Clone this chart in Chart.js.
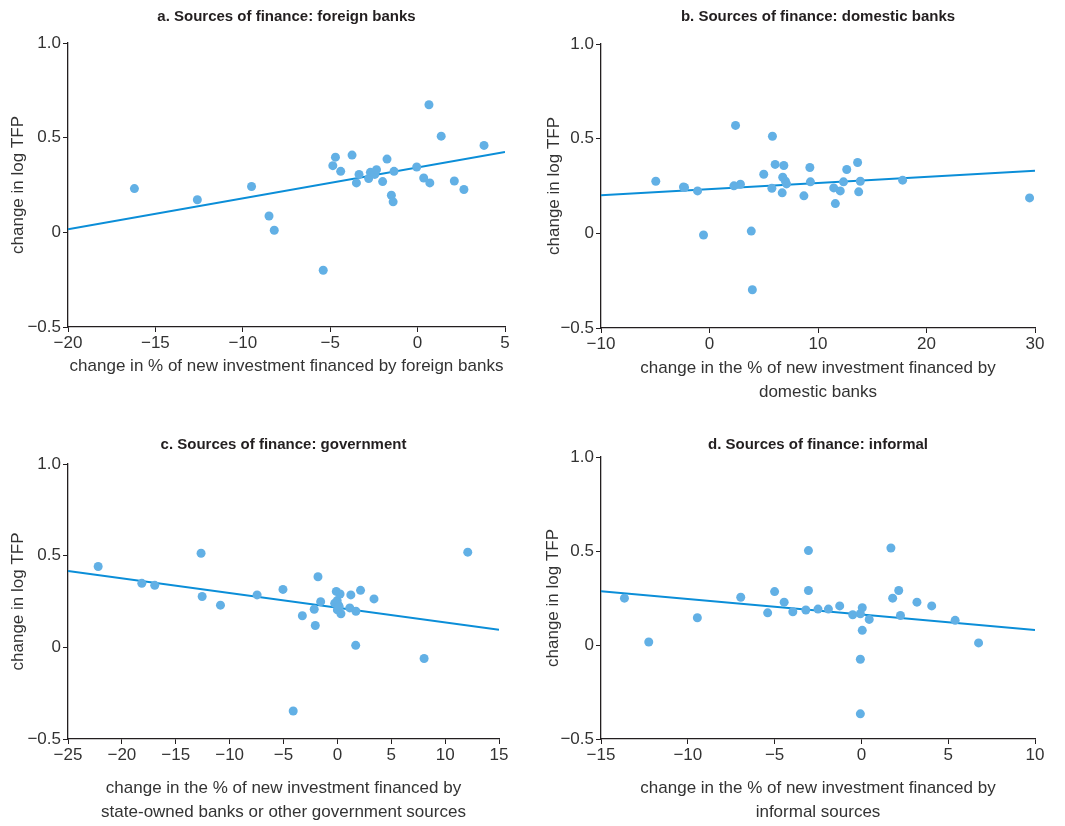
<!DOCTYPE html>
<html>
<head>
<meta charset="utf-8">
<script src="https://cdn.jsdelivr.net/npm/chart.js@4.4.0/dist/chart.umd.min.js"></script>
<style>
  body { margin: 0; background: #fff; }
  .panel { position: absolute; }
</style>
</head>
<body>
<div class="panel" style="left:0;top:0;width:530px;height:410px"><canvas id="chartA"></canvas></div>
<div class="panel" style="left:530px;top:0;width:535px;height:410px"><canvas id="chartB"></canvas></div>
<div class="panel" style="left:0;top:420px;width:530px;height:406px"><canvas id="chartC"></canvas></div>
<div class="panel" style="left:530px;top:420px;width:535px;height:406px"><canvas id="chartD"></canvas></div>
<script>
// Panel a: foreign banks
const foreignX = [-16.2, -12.6, -9.5, -8.5, -8.2, -5.4, -4.85, -4.7, -4.4, -3.75, -3.5, -3.35, -2.8, -2.7, -2.45, -2.35, -2.0, -1.75, -1.5, -1.4, -1.35, -0.05, 0.35, 0.65, 0.7, 1.35, 2.1, 2.65, 3.8];
const foreignY = [0.231, 0.172, 0.242, 0.086, 0.011, -0.200, 0.352, 0.397, 0.322, 0.408, 0.261, 0.306, 0.284, 0.317, 0.306, 0.331, 0.268, 0.387, 0.196, 0.161, 0.322, 0.345, 0.287, 0.674, 0.261, 0.508, 0.271, 0.226, 0.459];
const foreignFitX = [-20, 5];
const foreignFitY = [0.016, 0.425];

// Panel b: domestic banks
const domesticX = [-4.95, -2.4, -2.3, -1.1, -0.55, 2.25, 2.4, 2.85, 3.85, 3.95, 5.0, 5.75, 5.8, 6.05, 6.7, 6.75, 6.85, 7.0, 7.1, 8.7, 9.25, 9.3, 11.45, 11.6, 12.05, 12.35, 12.65, 13.65, 13.75, 13.9, 17.8, 29.5];
const domesticY = [0.275, 0.245, 0.242, 0.224, -0.009, 0.251, 0.570, 0.259, 0.012, -0.298, 0.312, 0.238, 0.513, 0.364, 0.214, 0.296, 0.358, 0.275, 0.261, 0.198, 0.348, 0.272, 0.240, 0.157, 0.224, 0.272, 0.337, 0.374, 0.219, 0.275, 0.281, 0.187];
const domesticFitX = [-10, 30];
const domesticFitY = [0.201, 0.330];

// Panel c: government
const govX = [-22.2, -18.15, -16.95, -12.65, -12.55, -10.85, -7.45, -5.05, -4.1, -3.25, -2.15, -2.05, -1.8, -1.55, -0.25, -0.1, -0.02, 0.0, 0.08, 0.17, 0.25, 0.33, 1.15, 1.25, 1.7, 1.72, 2.15, 3.4, 8.05, 12.1];
const govY = [0.441, 0.349, 0.338, 0.513, 0.277, 0.230, 0.286, 0.316, -0.347, 0.172, 0.208, 0.119, 0.385, 0.249, 0.240, 0.305, 0.255, 0.204, 0.231, 0.222, 0.291, 0.183, 0.215, 0.286, 0.011, 0.197, 0.311, 0.264, -0.061, 0.519];
const govFitX = [-25, 15];
const govFitY = [0.417, 0.096];

// Panel d: informal sources
const informalX = [-13.65, -12.25, -9.45, -6.95, -5.4, -5.0, -4.45, -3.95, -3.2, -3.05, -3.05, -2.5, -1.9, -1.25, -0.5, -0.06, -0.06, -0.06, 0.05, 0.05, 0.45, 1.7, 1.8, 2.15, 2.25, 3.2, 4.05, 5.4, 6.75];
const informalY = [0.249, 0.016, 0.145, 0.254, 0.171, 0.284, 0.228, 0.177, 0.186, 0.502, 0.290, 0.191, 0.191, 0.208, 0.161, 0.166, -0.076, -0.366, 0.198, 0.078, 0.136, 0.516, 0.249, 0.290, 0.157, 0.228, 0.208, 0.131, 0.011];
const informalFitX = [-15, 10];
const informalFitY = [0.286, 0.080];

const yTicks = [-0.5, 0, 0.5, 1.0];
const yTitle = "change in log TFP";

const pointColor = "#62b0e5";
const lineColor = "#0b8ed8";
const axisColor = "#231f20";
const textColor = "#333333";
const fontFamily = "'Liberation Sans', Arial, sans-serif";

function toPoints(xs, ys) {
  return xs.map((x, i) => ({ x: x, y: ys[i] }));
}

// tick labels use a real minus sign
function fmt(value) {
  let s = value === 1 ? "1.0" : String(Math.abs(value));
  return value < 0 ? "\u2212" + s : s;
}

function makeChart(id, opt) {
  const ctx = document.getElementById(id).getContext("2d");
  return new Chart(ctx, {
    type: "scatter",
    data: {
      datasets: [
        {
          data: toPoints(opt.xs, opt.ys),
          backgroundColor: pointColor,
          borderWidth: 0,
          pointRadius: 4.5,
          order: 1,
        },
        {
          type: "line",
          data: toPoints(opt.fitX, opt.fitY),
          borderColor: lineColor,
          borderWidth: 2,
          pointRadius: 0,
          fill: false,
          order: 2,
        },
      ],
    },
    options: {
      responsive: true,
      maintainAspectRatio: false,
      animation: false,
      layout: {
        padding: { left: 0, right: opt.right, top: 0, bottom: opt.bottom },
      },
      plugins: {
        legend: { display: false },
        tooltip: { enabled: false },
        title: {
          display: true,
          text: opt.title,
          fullSize: false,
          color: "#231f20",
          font: { family: fontFamily, size: 15, weight: "bold" },
          padding: { top: opt.titleTop, bottom: opt.titleBottom },
        },
      },
      scales: {
        x: {
          type: "linear",
          min: opt.xMin,
          max: opt.xMax,
          afterBuildTicks: (axis) => {
            axis.ticks = opt.xTicks.map((v) => ({ value: v }));
          },
          afterFit: (axis) => { axis.height = opt.xAxisHeight; },
          border: { display: true, color: axisColor, width: 1.3 },
          grid: { display: true, drawOnChartArea: false, drawTicks: true, tickLength: 5, color: axisColor, lineWidth: 1 },
          ticks: {
            color: textColor,
            padding: 1,
            maxRotation: 0,
            font: { family: fontFamily, size: 17 },
            callback: (v) => fmt(v),
          },
          title: {
            display: true,
            text: opt.xTitle,
            color: textColor,
            font: { family: fontFamily, size: 17, lineHeight: 1.45 },
            padding: { top: 0, bottom: 0 },
          },
        },
        y: {
          type: "linear",
          min: -0.5,
          max: 1,
          afterBuildTicks: (axis) => {
            axis.ticks = yTicks.map((v) => ({ value: v }));
          },
          afterFit: (axis) => { axis.width = opt.yAxisWidth; },
          border: { display: true, color: axisColor, width: 1.3 },
          grid: { display: true, drawOnChartArea: false, drawTicks: true, tickLength: 5, color: axisColor, lineWidth: 1 },
          ticks: {
            color: textColor,
            padding: 2,
            font: { family: fontFamily, size: 17 },
            callback: (v) => fmt(v),
          },
          title: {
            display: true,
            text: yTitle,
            color: textColor,
            font: { family: fontFamily, size: 17 },
            padding: { top: opt.yTitlePad, bottom: 0 },
          },
        },
      },
    },
  });
}

makeChart("chartA", {
  title: "a. Sources of finance: foreign banks",
  xs: foreignX, ys: foreignY, fitX: foreignFitX, fitY: foreignFitY,
  xMin: -20, xMax: 5, xTicks: [-20, -15, -10, -5, 0, 5],
  xTitle: "change in % of new investment financed by foreign banks",
  right: 25, bottom: 31, titleTop: 8, titleBottom: 17, xAxisHeight: 52, yAxisWidth: 68, yTitlePad: 8,
});

makeChart("chartB", {
  title: "b. Sources of finance: domestic banks",
  xs: domesticX, ys: domesticY, fitX: domesticFitX, fitY: domesticFitY,
  xMin: -10, xMax: 30, xTicks: [-10, 0, 10, 20, 30],
  xTitle: ["change in the % of new investment financed by", "domestic banks"],
  right: 30, bottom: 5, titleTop: 8, titleBottom: 18, xAxisHeight: 77, yAxisWidth: 71, yTitlePad: 14,
});

makeChart("chartC", {
  title: "c. Sources of finance: government",
  xs: govX, ys: govY, fitX: govFitX, fitY: govFitY,
  xMin: -25, xMax: 15, xTicks: [-25, -20, -15, -10, -5, 0, 5, 10, 15],
  xTitle: ["change in the % of new investment financed by", "state-owned banks or other government sources"],
  right: 31, bottom: 1, titleTop: 16, titleBottom: 10, xAxisHeight: 86, yAxisWidth: 68, yTitlePad: 8,
});

makeChart("chartD", {
  title: "d. Sources of finance: informal",
  xs: informalX, ys: informalY, fitX: informalFitX, fitY: informalFitY,
  xMin: -15, xMax: 10, xTicks: [-15, -10, -5, 0, 5, 10],
  xTitle: ["change in the % of new investment financed by", "informal sources"],
  right: 30, bottom: 1, titleTop: 16, titleBottom: 3, xAxisHeight: 86, yAxisWidth: 71, yTitlePad: 13,
});
</script>
</body>
</html>
